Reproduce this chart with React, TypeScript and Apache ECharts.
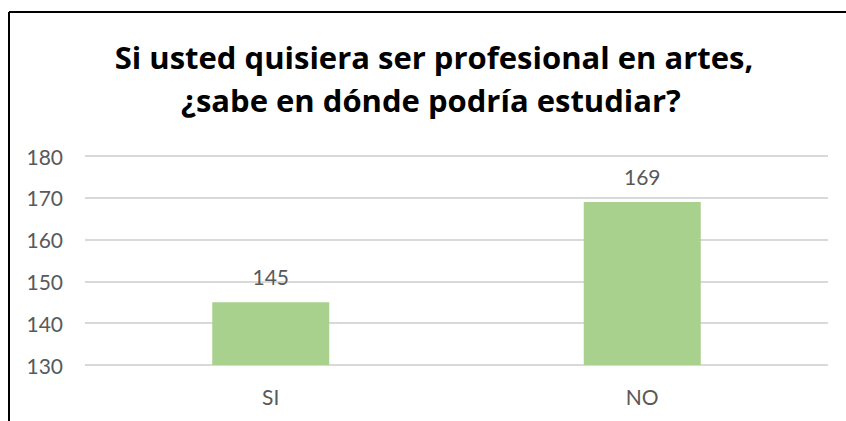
import React, { useEffect, useRef } from "react";
import * as echarts from "echarts";

const titleLines = ["Si usted quisiera ser profesional en artes,", "¿sabe en dónde podría estudiar?"];
const categories = ["SI", "NO"];
const values = [145, 169];
const yMin = 130;
const yMax = 180;
const yInterval = 10;

export default function App() {
  const ref = useRef<HTMLDivElement>(null);
  useEffect(() => {
    if (!ref.current) return;
    const chart = echarts.init(ref.current, null, { renderer: "svg" });
    chart.setOption({
      animation: false,
      backgroundColor: "#ffffff",
      textStyle: { fontFamily: "Lato" },
      graphic: [
        { type: "line", shape: { x1: 9, y1: 12, x2: 846, y2: 12 }, style: { stroke: "#000", lineWidth: 2 } },
        { type: "line", shape: { x1: 9, y1: 12, x2: 9, y2: 421 }, style: { stroke: "#000", lineWidth: 2 } },
        {
          type: "text",
          x: 434,
          y: 57,
          style: {
            text: titleLines[0],
            font: "bold 31px 'Open Sans'",
            fill: "#000",
            align: "center",
            verticalAlign: "middle",
          },
        },
        {
          type: "text",
          x: 431,
          y: 100,
          style: {
            text: titleLines[1],
            font: "bold 31px 'Open Sans'",
            fill: "#000",
            align: "center",
            verticalAlign: "middle",
          },
        },
      ],
      grid: { left: 85, right: 18, top: 156, bottom: 56 },
      xAxis: {
        type: "category",
        data: categories,
        axisLine: { show: false },
        axisTick: { show: false },
        axisLabel: { color: "#595959", fontSize: 21, fontFamily: "Lato", margin: 21 },
      },
      yAxis: {
        type: "value",
        min: yMin,
        max: yMax,
        interval: yInterval,
        axisLine: { show: false },
        axisTick: { show: false },
        axisLabel: { color: "#595959", fontSize: 21, fontFamily: "Lato", margin: 22 },
        splitLine: { lineStyle: { color: "#D9D9D9", width: 2 } },
      },
      series: [
        {
          type: "bar",
          data: values,
          barWidth: 117,
          itemStyle: { color: "#A9D18E" },
          label: {
            show: true,
            position: "top",
            distance: 15,
            color: "#595959",
            fontSize: 21,
            fontFamily: "Lato",
          },
        },
      ],
    });
    return () => chart.dispose();
  }, []);
  return (
    <div
      ref={ref}
      style={{ position: "fixed", left: 0, top: 0, width: 846, height: 421 }}
    />
  );
}
